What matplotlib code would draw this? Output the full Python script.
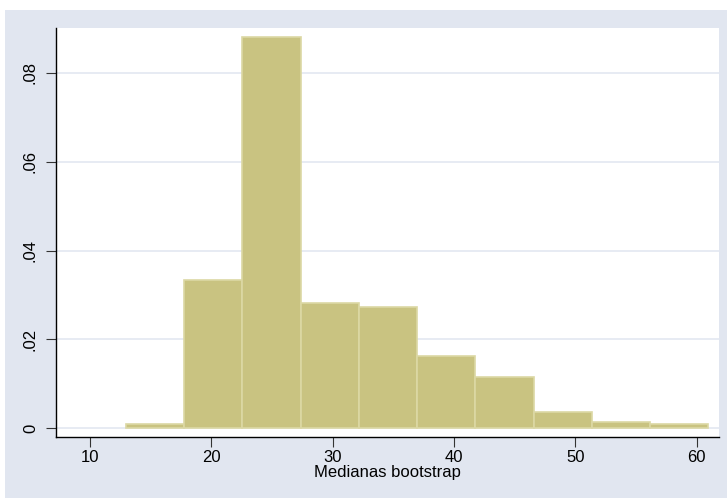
import matplotlib
matplotlib.use("Agg")
import matplotlib.pyplot as plt
from matplotlib.patches import Rectangle
import numpy as np

# Histogram bins (density)
bin_edges = [12.97, 17.77, 22.57, 27.37, 32.17, 36.97, 41.77, 46.57, 51.37, 56.17, 60.97]
densities = [0.0010, 0.0333, 0.0880, 0.0282, 0.0272, 0.0162, 0.0116, 0.0037, 0.0014, 0.0010]
x_ticks = [10, 20, 30, 40, 50, 60]
y_ticks = [0, 0.02, 0.04, 0.06, 0.08]
y_tick_labels = ["0", ".02", ".04", ".06", ".08"]
x_label = "Medianas bootstrap"

W, H = 727, 498
fig = plt.figure(figsize=(W / 100, H / 100), dpi=100)
fig.patch.set_facecolor("white")
bg = "#E1E6F0"
fig.patches.append(Rectangle((5 / W, 0), 1 - 5 / W, 1 - 10 / H, transform=fig.transFigure,
                             facecolor=bg, edgecolor="none", zorder=-10))

left, right, top, bottom = 56, 719, 28, 437
ax = fig.add_axes([left / W, 1 - bottom / H, (right - left) / W, (bottom - top) / H])
ax.set_facecolor("white")
ax.set_zorder(1)

fam = ["Liberation Sans", "DejaVu Sans"]
fs = 12

widths = np.diff(bin_edges)
ax.bar(bin_edges[:-1], densities, width=widths, align="edge",
       color="#C9C381", edgecolor="#DCD8A4", linewidth=1.2, zorder=3)

ax.set_xlim(7.2, 61.85)
ax.set_ylim(-0.00196, 0.0901)
ax.set_yticks(y_ticks)
ax.set_yticklabels(y_tick_labels, rotation=90, va="center", fontsize=fs, family=fam)
ax.set_xticks(x_ticks)
ax.set_xticklabels([str(t) for t in x_ticks], fontsize=fs, family=fam)
ax.tick_params(axis="both", direction="out", length=7, width=0.8, color="#333333")
ax.tick_params(axis="y", pad=6)
ax.tick_params(axis="x", pad=2)

ax.grid(axis="y", color="#E3E7F1", linewidth=1.2, zorder=1)
ax.set_axisbelow(True)

for s in ["top", "right"]:
    ax.spines[s].set_visible(False)
for s in ["left", "bottom"]:
    ax.spines[s].set_color("black")
    ax.spines[s].set_linewidth(1.0)

ax.set_xlabel(x_label, fontsize=fs, labelpad=0.5, family=fam)

fig.savefig("out.png", dpi=100, facecolor=fig.get_facecolor())
